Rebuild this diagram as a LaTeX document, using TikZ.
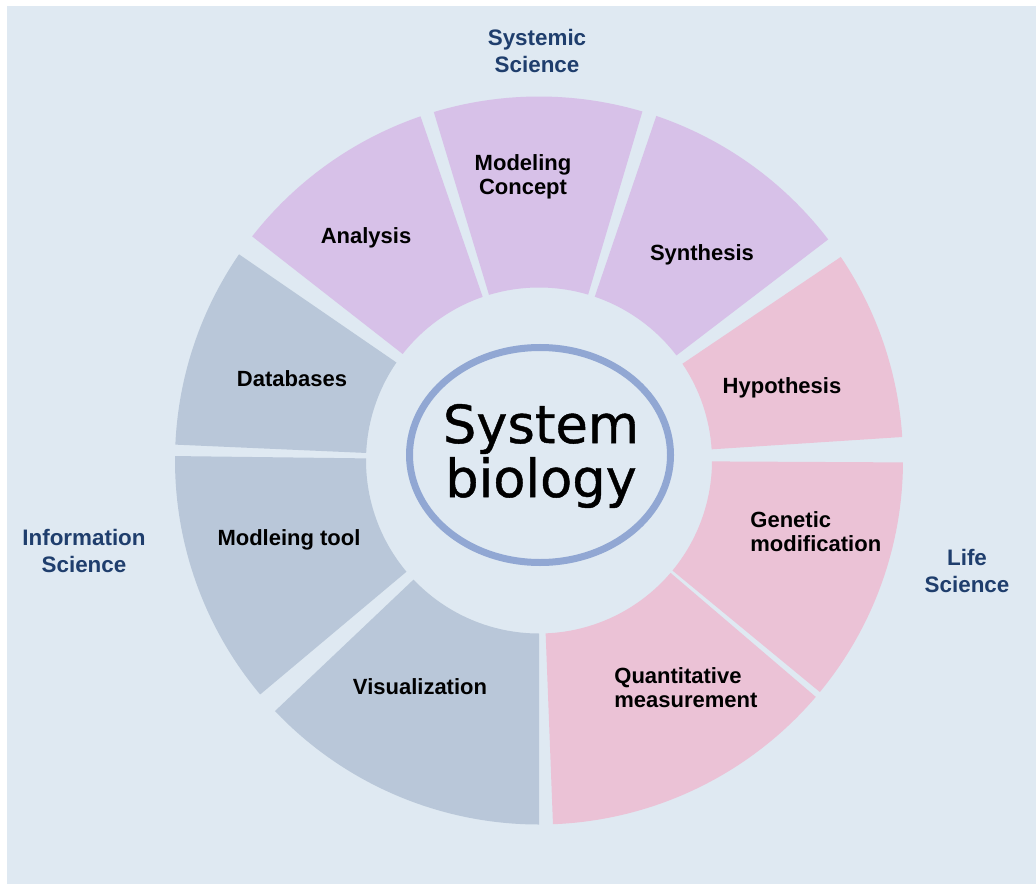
\documentclass[tikz,border=0pt]{standalone}
\usepackage{fontspec}
\setmainfont{Liberation Sans}
\newfontfamily\titlefont[FakeBold=0.8]{DejaVu Sans}
\begin{document}
\definecolor{bgblue}{HTML}{DFE9F2}
\definecolor{segpurple}{HTML}{D7C1E8}
\definecolor{segpink}{HTML}{EBC2D6}
\definecolor{seggrey}{HTML}{B9C7D9}
\definecolor{ringline}{HTML}{91A7D3}
\definecolor{navy}{HTML}{1F3E6D}
\tikzset{
  seglabel/.style={font=\bfseries\fontsize{11}{12}\selectfont, text=black, align=center, inner sep=0pt},
  fieldlabel/.style={font=\bfseries\fontsize{11.2}{13.5}\selectfont, text=navy, align=center, inner sep=0pt}
}
% annular sector: colour, start angle, end angle
\newcommand{\ringsector}[3]{%
  \fill[#1] (#2:364) arc[start angle=#2, end angle=#3, radius=364]
    -- (#3:173) arc[start angle=#3, end angle=#2, radius=173] -- cycle;}
\begin{tikzpicture}[x=0.5pt,y=0.5pt]
  % canvas
  \fill[white] (0,0) rectangle (1036,884);
  \fill[bgblue] (7,0) rectangle (1036,878);
  \useasboundingbox (0,0) rectangle (1036,884);

  % ring of topics
  \begin{scope}[shift={(539,423.5)}]
    \ringsector{segpink}{3.7}{34}
    \ringsector{segpurple}{37.4}{71.2}
    \ringsector{segpurple}{73.5}{106.8}
    \ringsector{segpurple}{109}{142}
    \ringsector{seggrey}{145.5}{177.5}
    \ringsector{seggrey}{179.3}{220}
    \ringsector{seggrey}{223.5}{270}
    \ringsector{segpink}{272.2}{319.5}
    \ringsector{segpink}{320.5}{359.7}
  \end{scope}

  % centre
  \draw[ringline, line width=3.5pt] (540,429) ellipse[x radius=130.5, y radius=107.5];
  \node[align=center, inner sep=0pt, font=\titlefont\fontsize{26.3}{27}\selectfont] (core) at (541,428) {System\\biology};

  % segment labels
  \node[seglabel] (mc) at (523,707.5) {Modeling\\Concept};
  \node[seglabel] (an) at (366,646.5) {Analysis};
  \node[seglabel] (sy) at (702,629.5) {Synthesis};
  \node[seglabel] (hy) at (782,496.5) {Hypothesis};
  \node[seglabel] (db) at (292,505) {Databases};
  \node[seglabel] (mt) at (289,344) {Modleing tool};
  \node[seglabel, align=left, anchor=west] (gm) at (750,352) {Genetic\\modification};
  \node[seglabel, align=left, anchor=west] (qm) at (614,196) {Quantitative\\measurement};
  \node[seglabel] (vi) at (420,197) {Visualization};

  % field labels
  \node[fieldlabel] (ss) at (537,833) {Systemic\\Science};
  \node[fieldlabel] (is) at (84,333) {Information\\Science};
  \node[fieldlabel] (ls) at (967,313) {Life\\Science};
\end{tikzpicture}
\end{document}
